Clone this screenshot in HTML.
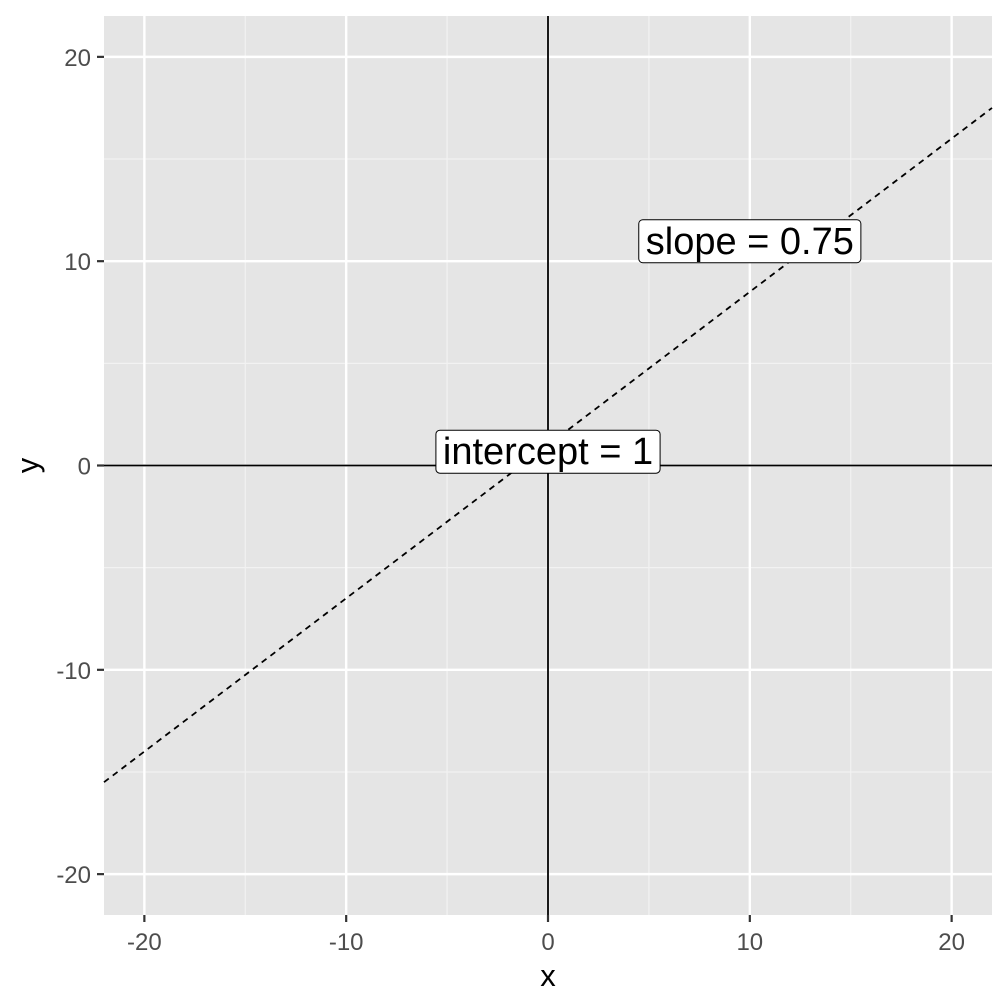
<!DOCTYPE html>
<html><head><meta charset="utf-8"><style>
body{margin:0;background:#fff}
svg{display:block;font-family:"Liberation Sans",Arial,sans-serif}
</style></head><body>
<svg id="chart" width="1008" height="1008" viewBox="0 0 1008 1008"></svg>
<script>
const xTicks=[-20,-10,0,10,20];
const yTicks=[-20,-10,0,10,20];
const xMinor=[-15,-5,5,15];
const yMinor=[-15,-5,5,15];
const slope=[0.75];
const intercept=[1];
const labels=["slope = 0.75","intercept = 1"];
const labelX=[10,0];
const labelY=[11,0.7];
const L=104,R=992,T=16,B=915,XMIN=-22,XMAX=22,YMIN=-22,YMAX=22;
const sx=v=>L+(v-XMIN)/(XMAX-XMIN)*(R-L);
const sy=v=>B-(v-YMIN)/(YMAX-YMIN)*(B-T);
const svg=document.getElementById('chart');
const NS='http://www.w3.org/2000/svg';
function mk(t,a,p){const e=document.createElementNS(NS,t);for(const k in a)e.setAttribute(k,a[k]);(p||svg).appendChild(e);return e;}
const panel=mk('rect',{x:L,y:T,width:R-L,height:B-T,fill:'#e5e5e5'});


xMinor.forEach(v=>{const e=mk('line',{x1:sx(v),x2:sx(v),y1:T,y2:B,stroke:'#f2f2f2','stroke-width':1.2});});
yMinor.forEach(v=>{const e=mk('line',{x1:L,x2:R,y1:sy(v),y2:sy(v),stroke:'#f2f2f2','stroke-width':1.2});});
xTicks.forEach(v=>{const e=mk('line',{x1:sx(v),x2:sx(v),y1:T,y2:B,stroke:'#fff','stroke-width':2.4});
 const t=mk('line',{x1:sx(v),x2:sx(v),y1:B,y2:B+7,stroke:'#333','stroke-width':2.2});
 const l=mk('text',{x:sx(v),y:B+35,'text-anchor':'middle','font-size':24,fill:'#4d4d4d'});l.textContent=v;});
yTicks.forEach(v=>{const e=mk('line',{x1:L,x2:R,y1:sy(v),y2:sy(v),stroke:'#fff','stroke-width':2.4});
 const t=mk('line',{x1:L-7,x2:L,y1:sy(v),y2:sy(v),stroke:'#333','stroke-width':2.2});
 const l=mk('text',{x:L-13,y:sy(v)+9,'text-anchor':'end','font-size':24,fill:'#4d4d4d'});l.textContent=v;});
const h=mk('line',{x1:L,x2:R,y1:sy(0),y2:sy(0),stroke:'#000','stroke-width':1.8});
const v=mk('line',{x1:sx(0),x2:sx(0),y1:T,y2:B,stroke:'#000','stroke-width':1.8});
const ab=mk('line',{x1:sx(XMIN),y1:sy(slope[0]*XMIN+intercept[0]),x2:sx(XMAX),y2:sy(slope[0]*XMAX+intercept[0]),stroke:'#000','stroke-width':1.8,'stroke-dasharray':'6 5'});

labels.forEach((s,i)=>{const g=mk('g',{});
 const t=mk('text',{x:sx(labelX[i]),y:sy(labelY[i])+13,'text-anchor':'middle','font-size':38,fill:'#000'},g);t.textContent=s;
 const bb=t.getBBox();const r=mk('rect',{x:bb.x-7,y:sy(labelY[i])-21,width:bb.width+14,height:43,rx:4,fill:'#fff',stroke:'#000','stroke-width':1},g);g.insertBefore(r,t);});
const xt=mk('text',{x:sx(0),y:986,'text-anchor':'middle','font-size':31,fill:'#000'});xt.textContent='x';
const yt=mk('text',{x:38,y:sy(0),'text-anchor':'middle','font-size':31,fill:'#000',transform:`rotate(-90 38 ${sy(0)})`});yt.textContent='y';
</script>
</body></html>
